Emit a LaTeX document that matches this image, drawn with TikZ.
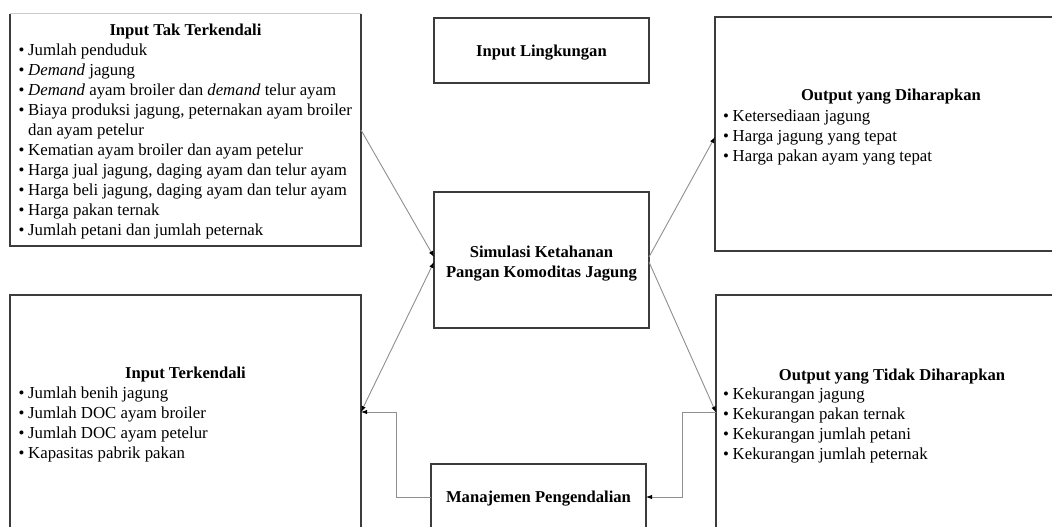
\documentclass[tikz,border=0pt]{standalone}
\usepackage{fontspec}
\setmainfont{Liberation Serif}
\usetikzlibrary{arrows.meta,calc}
\definecolor{boxcol}{HTML}{3C3C3C}
\definecolor{conncol}{HTML}{8F8F8F}
\newcommand\bitem{\strut\makebox[9.5pt][l]{•}}
\begin{document}
\begin{tikzpicture}[x=1pt,y=-1pt,
  box/.style={draw=boxcol, line width=1.3pt, inner sep=0pt, outer sep=0pt},
  ttl/.style={font=\fontsize{16.6}{20}\selectfont\bfseries, inner sep=0pt, anchor=base},
  lst/.style={font=\fontsize{16.8}{20}\selectfont, inner sep=0pt, anchor=north west, align=left},
  tip/.style={-{Latex[length=6pt,width=4.5pt,color=black]}},
  conn/.style={draw=conncol, line width=0.9pt, tip},
]
\useasboundingbox[fill=white] (0,0) rectangle (1052,527);

% boxes
\node[box, draw=none, minimum width=351pt, minimum height=232pt] (tl) at (185.5,130) {};
\draw[boxcol, line width=1.3pt] (tl.north west) -- (tl.south west) -- (tl.south east) -- (tl.north east);
\draw[black!20, line width=1pt] (tl.north west) -- (tl.north east);
\node[box, minimum width=215pt, minimum height=65pt] (il) at (541.5,50.5) {};
\node[box, minimum width=215pt, minimum height=136pt] (sim) at (541.5,260) {};
\node[box, minimum width=215pt, minimum height=66pt] (man) at (538.5,497) {};
\node[box, minimum width=355pt, minimum height=234pt] (tr) at (892.5,134) {};
\node[box, minimum width=351pt, minimum height=234pt] (bl) at (185.5,412) {};
\node[box, minimum width=354pt, minimum height=235pt] (br) at (893,412.5) {};

% texts
\node[ttl] (tlT) at (185.5,36) {Input Tak Terkendali};
\node[lst] (tlL) at (18.5,41) {\bitem Jumlah penduduk\\
\bitem \textit{Demand} jagung\\
\bitem \textit{Demand} ayam broiler dan \textit{demand} telur ayam\\
\bitem Biaya produksi jagung, peternakan ayam broiler\\
\strut\hspace*{9.5pt}dan ayam petelur\\
\bitem Kematian ayam broiler dan ayam petelur\\
\bitem Harga jual jagung, daging ayam dan telur ayam\\
\bitem Harga beli jagung, daging ayam dan telur ayam\\
\bitem Harga pakan ternak\\
\bitem Jumlah petani dan jumlah peternak};

\node[ttl] (ilT) at (541.5,57) {Input Lingkungan};
\node[ttl] (simT1) at (541.5,257) {Simulasi Ketahanan};
\node[ttl] (simT2) at (541.5,277) {Pangan Komoditas Jagung};
\node[ttl] (manT) at (538.5,502) {Manajemen Pengendalian};

\node[ttl] (trT) at (891,100) {Output yang Diharapkan};
\node[lst] (trL) at (723,107) {\bitem Ketersediaan jagung\\
\bitem Harga jagung yang tepat\\
\bitem Harga pakan ayam yang tepat};

\node[ttl] (blT) at (185.5,378) {Input Terkendali};
\node[lst] (blL) at (18.5,384) {\bitem Jumlah benih jagung\\
\bitem Jumlah DOC ayam broiler\\
\bitem Jumlah DOC ayam petelur\\
\bitem Kapasitas pabrik pakan};

\node[ttl] (brT) at (892,380) {Output yang Tidak Diharapkan};
\node[lst] (brL) at (723,385) {\bitem Kekurangan jagung\\
\bitem Kekurangan pakan ternak\\
\bitem Kekurangan jumlah petani\\
\bitem Kekurangan jumlah peternak};

% connectors
\draw[conn] (tl.east) -- ($(sim.west)+(0,-3)$);
\draw[conn, {Latex[length=6pt,width=4.5pt,color=black]}-{Latex[length=6pt,width=4.5pt,color=black]}] ($(sim.west)+(0,2)$) -- (bl.east);
\draw[conn] (man.west) -- ++(-35,0) |- (bl.east);
\draw[conn] ($(sim.east)+(0,-3)$) -- ($(tr.west)+(0,3)$);
\draw[conn] ($(sim.east)+(0,2)$) -- (br.west);
\draw[conn] (br.west) -- ++(-34,0) |- (man.east);
\end{tikzpicture}
\end{document}
